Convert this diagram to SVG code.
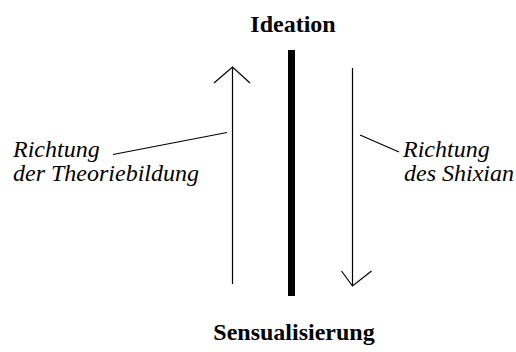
<svg xmlns="http://www.w3.org/2000/svg" width="516" height="352" viewBox="0 0 516 352">
<style>
text{font-family:'Liberation Serif','DejaVu Serif',serif;font-size:24px;fill:#000}
.b{font-weight:bold}
.i{font-style:italic}
.ln{stroke:#000;stroke-width:1.2;fill:none}
</style>
<rect width="516" height="352" fill="#fff"/>
<g id="ideation"><text class="b" x="293" y="32" text-anchor="middle" font-family="Liberation Serif">Ideation</text></g>
<g id="sensualisierung"><text class="b" x="294" y="340" text-anchor="middle" font-family="Liberation Serif">Sensualisierung</text></g>
<g id="bar"><rect x="288" y="50" width="7" height="246" fill="#000"/></g>
<g id="label-left"><text class="i" x="13" y="157" font-family="Liberation Serif">Richtung</text><text class="i" x="13" y="181" font-family="Liberation Serif">der Theoriebildung</text></g>
<g id="label-right"><text class="i" x="403" y="157" font-family="Liberation Serif">Richtung</text><text class="i" x="404" y="181" font-family="Liberation Serif">des Shixian</text></g>
<g id="connectors">
<line class="ln" x1="232.5" y1="284" x2="232.5" y2="67"/>
<polyline class="ln" points="214,83 232.5,67 250,83"/>
<line class="ln" x1="352.5" y1="68" x2="352.5" y2="286"/>
<polyline class="ln" points="341.5,271 352.5,286 371.5,271"/>
<line class="ln" x1="113" y1="154.5" x2="227" y2="132.5"/>
<line class="ln" x1="360" y1="135" x2="399" y2="152"/>
</g>
</svg>
